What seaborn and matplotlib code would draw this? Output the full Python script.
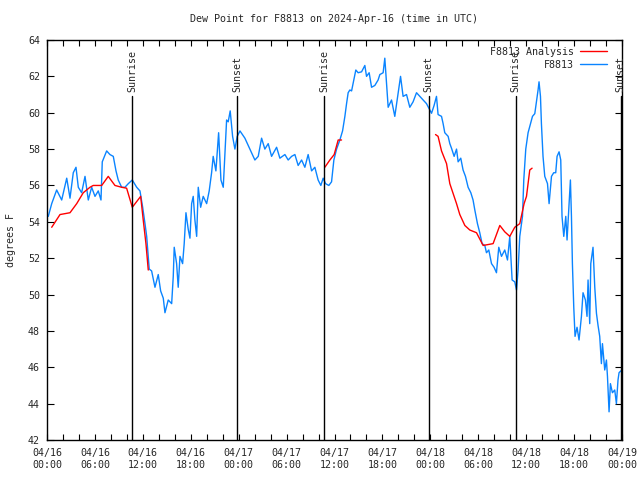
import pandas as pd
import matplotlib
matplotlib.use('Agg')
import matplotlib.pyplot as plt
import matplotlib.dates as mdates
import seaborn as sns

# Observed dew point (hours after 2024-04-16 00:00 UTC, degrees F)
obs_hours = [0.16, 0.59, 1.21, 1.84, 2.47, 2.88, 3.29, 3.63, 3.92, 4.34, 4.76, 5.17, 5.59, 6.01, 6.42, 6.76,
             6.92, 7.47, 7.88, 8.30, 8.64, 8.92, 9.35, 9.76, 10.18, 10.68, 11.23, 11.64, 11.98, 12.27, 12.48,
             12.80, 13.10, 13.52, 13.93, 14.23, 14.56, 14.77, 15.18, 15.61, 15.81, 15.93, 16.23, 16.43, 16.65,
             16.98, 17.18, 17.40, 17.68, 17.90, 18.11, 18.31, 18.52, 18.74, 18.94, 19.24, 19.56, 19.99, 20.31,
             20.61, 20.81, 21.15, 21.49, 21.78, 22.07, 22.28, 22.49, 22.69, 22.94, 23.24, 23.53, 23.82, 24.16,
             24.78, 25.41, 26.03, 26.45, 26.87, 27.28, 27.70, 28.12, 28.75, 29.16, 29.79, 30.20, 30.63, 31.04,
             31.45, 31.88, 32.29, 32.70, 33.13, 33.54, 33.95, 34.29, 34.58, 34.88, 35.29, 35.63, 35.92, 36.26,
             36.67, 37.01, 37.30, 37.51, 37.71, 37.92, 38.14, 38.42, 38.67, 38.96, 39.39, 39.80, 40.01, 40.34,
             40.64, 41.05, 41.46, 41.68, 42.09, 42.30, 42.52, 42.72, 43.14, 43.55, 43.97, 44.27, 44.59, 45.02,
             45.43, 45.84, 46.27, 46.68, 47.10, 47.52, 47.93, 48.15, 48.47, 48.77, 48.97, 49.40, 49.60, 49.81,
             50.23, 50.44, 50.65, 50.98, 51.28, 51.48, 51.81, 52.10, 52.40, 52.73, 53.07, 53.35, 53.57, 53.90,
             54.19, 54.48, 54.82, 55.03, 55.32, 55.66, 55.98, 56.28, 56.57, 56.91, 57.32, 57.66, 57.95, 58.24,
             58.57, 58.79, 58.99, 59.20, 59.54, 59.70, 59.95, 60.24, 60.54, 60.79, 61.08, 61.29, 61.49, 61.61,
             61.79, 61.91, 62.11, 62.33, 62.67, 62.87, 63.17, 63.45, 63.70, 63.87, 64.12, 64.33, 64.49, 64.71,
             64.96, 65.12, 65.37, 65.54, 65.67, 65.79, 65.96, 66.12, 66.37, 66.62, 66.92, 67.12, 67.42, 67.62,
             67.75, 67.96, 68.09, 68.37, 68.59, 68.80, 69.00, 69.21, 69.42, 69.55, 69.84, 70.05, 70.18, 70.38,
             70.55, 70.80, 71.09, 71.30, 71.50, 71.63, 71.85]
obs_dewpt = [54.3, 55.0, 55.75, 55.2, 56.4, 55.3, 56.7, 57.0, 55.9, 55.6, 56.5, 55.2, 55.9, 55.4, 55.7, 55.2,
             57.3, 57.9, 57.7, 57.6, 56.8, 56.3, 55.9, 55.9, 56.1, 56.3, 55.9, 55.7, 54.8, 53.9, 53.2,
             51.4, 51.3, 50.4, 51.1, 50.2, 49.8, 49.0, 49.7, 49.5, 51.0, 52.6, 51.7, 50.4, 52.1,
             51.7, 52.8, 54.5, 53.6, 53.1, 55.0, 55.4, 54.1, 53.2, 55.9, 54.8, 55.4, 55.0, 55.7,
             56.7, 57.6, 56.8, 58.9, 56.3, 55.9, 57.8, 59.6, 59.5, 60.1, 58.7, 58.0, 58.7, 59.0,
             58.6, 58.0, 57.4, 57.6, 58.6, 58.0, 58.3, 57.6, 58.1, 57.5, 57.7, 57.4, 57.6, 57.7,
             57.1, 57.4, 57.0, 57.7, 56.8, 57.0, 56.3, 56.0, 56.4, 56.1, 56.0, 56.2, 57.4, 58.0,
             58.5, 59.0, 59.8, 60.5, 61.1, 61.25, 61.2, 61.8, 62.35, 62.2, 62.25, 62.6, 62.0, 62.2,
             61.4, 61.5, 61.8, 62.1, 62.2, 63.0, 61.6, 60.3, 60.7, 59.8, 61.1, 62.0, 60.9, 61.0,
             60.3, 60.6, 61.1, 60.9, 60.7, 60.5, 60.15, 59.97, 60.4, 60.9, 59.9, 59.8, 59.4, 58.9,
             58.7, 58.3, 58.05, 57.6, 58.0, 57.3, 57.5, 56.85, 56.5, 55.9, 55.6, 55.2, 54.65, 53.9,
             53.4, 52.8, 52.7, 52.3, 52.45, 51.7, 51.5, 51.2, 52.6, 52.1, 52.45, 51.9, 53.2, 50.8,
             50.7, 50.25, 51.35, 53.2, 54.3, 56.3, 58.0, 58.9, 59.4, 59.8, 59.95, 60.6, 61.25, 61.7,
             60.9, 59.4, 57.6, 56.5, 56.1, 55.0, 56.5, 56.7, 56.7, 57.6, 57.85, 57.4, 54.3, 53.2,
             54.3, 53.0, 55.0, 56.3, 54.3, 51.7, 49.3, 47.7, 48.2, 47.5, 48.8, 50.1, 49.7, 48.8,
             50.8, 48.4, 51.7, 52.6, 50.4, 48.97, 48.3, 47.7, 46.2, 47.3, 45.85, 46.4, 45.5, 43.55,
             45.1, 44.6, 44.75, 44.0, 45.3, 45.7, 45.8]

# Analysis dew point, three separate stretches
ana_hours_1 = [0.59, 1.63, 2.88, 3.72, 4.54, 5.38, 5.79, 6.85, 7.67, 8.51, 9.35, 9.97, 10.68, 11.73, 12.05, 12.39, 12.68]
ana_dewpt_1 = [53.7, 54.4, 54.5, 55.0, 55.6, 55.9, 56.0, 56.0, 56.5, 56.0, 55.9, 55.85, 54.8, 55.4, 54.1, 52.8, 51.35]
ana_hours_2 = [34.79, 35.42, 35.96, 36.46, 36.88]
ana_dewpt_2 = [57.0, 57.4, 57.7, 58.5, 58.5]
ana_hours_3 = [48.65, 48.97, 49.40, 50.03, 50.44, 51.28, 51.69, 52.32, 52.94, 53.78, 54.61, 55.86, 56.70,
               57.32, 57.95, 58.57, 59.20, 59.74, 60.04, 60.45, 60.74]
ana_dewpt_3 = [58.8, 58.7, 57.9, 57.2, 56.1, 55.0, 54.4, 53.8, 53.55, 53.4, 52.7, 52.8, 53.8,
               53.45, 53.2, 53.7, 53.9, 55.0, 55.4, 56.85, 56.95]

# Sun events (hours after start)
sun_hours = [10.64, 23.78, 34.67, 47.80, 58.70, 71.84]
sun_labels = ['Sunrise', 'Sunset', 'Sunrise', 'Sunset', 'Sunrise', 'Sunset']

start = pd.Timestamp('2024-04-16 00:00')


def to_time(hours):
    return start + pd.to_timedelta(hours, unit='h')


sns.set_style('ticks')
plt.rcParams['font.family'] = ['DejaVu Sans Mono']
fs = 7.2

fig = plt.figure(figsize=(6.4, 4.8), dpi=100)
ax = fig.add_axes([47 / 640, 40 / 480, 575 / 640, 400 / 480])

blue = '#0a84ff'
red = '#ff0000'

obs_df = pd.DataFrame({'time': to_time(obs_hours), 'dewpt': obs_dewpt})
sns.lineplot(data=obs_df, x='time', y='dewpt', color=blue, lw=1, ax=ax, zorder=2)

for h, v in [(ana_hours_1, ana_dewpt_1), (ana_hours_2, ana_dewpt_2), (ana_hours_3, ana_dewpt_3)]:
    seg = pd.DataFrame({'time': to_time(h), 'dewpt': v})
    sns.lineplot(data=seg, x='time', y='dewpt', color=red, lw=1, ax=ax, zorder=3)

for h, lab in zip(sun_hours, sun_labels):
    t = to_time(h)
    ax.plot([t, t], [42, 60.9], color='black', lw=1, zorder=4)
    ax.text(t, 61.15, lab, rotation=90, ha='center', va='bottom', fontsize=fs)

ax.set_xlim(to_time(0), to_time(72))
ax.set_ylim(42, 64)
ax.set_yticks(range(42, 65, 2))
ax.xaxis.set_major_locator(mdates.HourLocator(byhour=[0, 6, 12, 18]))
ax.xaxis.set_minor_locator(mdates.HourLocator(interval=2))
ax.xaxis.set_major_formatter(mdates.DateFormatter('%m/%d\n%H:%M'))

ax.tick_params(axis='both', which='both', direction='in', top=True, right=True,
               labelsize=fs, width=0.8, color='black')
ax.tick_params(axis='x', which='both', length=4, pad=6)
ax.tick_params(axis='y', length=5, pad=5)
for sp in ax.spines.values():
    sp.set_linewidth(1)
    sp.set_color('black')

ax.set_xlabel('')
ax.set_ylabel('degrees F', fontsize=fs, labelpad=9)
ax.set_title('Dew Point for F8813 on 2024-Apr-16 (time in UTC)', fontsize=fs, pad=13)

# legend sits over the Sunrise label, as in the original chart
h_red = plt.Line2D([], [], color=red, lw=1)
h_blue = plt.Line2D([], [], color=blue, lw=1)
ax.legend([h_red, h_blue], ['F8813 Analysis', 'F8813'], loc='upper right',
          bbox_to_anchor=(0.983, 0.995), frameon=False,
          markerfirst=False, fontsize=fs, handlelength=2.7, handletextpad=0.6,
          borderaxespad=0.1, labelspacing=0.3)

fig.savefig('out.png', dpi=100)
